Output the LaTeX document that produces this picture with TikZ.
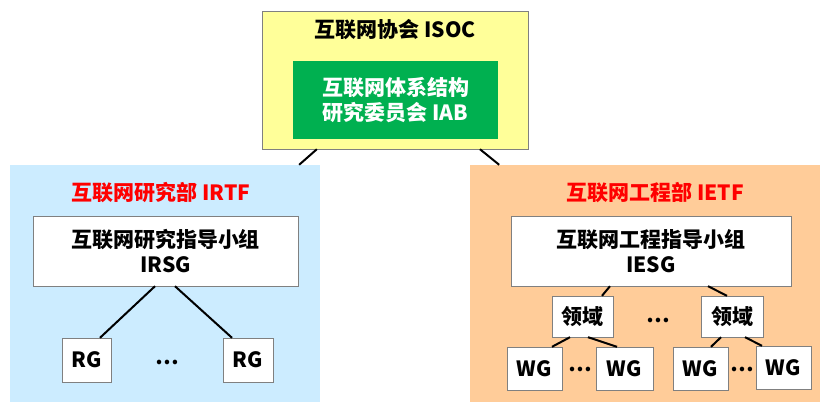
\documentclass[tikz,border=0pt]{standalone}
\usepackage{fontspec}
\setmainfont{Noto Sans CJK SC}
\usepackage{xcolor}
\definecolor{isocyellow}{HTML}{FFFF99}
\definecolor{iabgreen}{HTML}{00B050}
\definecolor{irtfblue}{HTML}{CCECFF}
\definecolor{ietforange}{HTML}{FFCC99}
\newcommand{\boxfont}{\fontsize{21}{25}\selectfont\bfseries}
\tikzset{
  every node/.style={
    font=\boxfont, inner sep=0pt
  },
  panel/.style={fill=#1, minimum width=0, minimum height=0},
  whitebox/.style={draw=gray, fill=white, align=center},
  title/.style={text=#1},
  link/.style={line width=2pt}
}

\begin{document}
\begin{tikzpicture}[x=1pt, y=-1pt]
    %\draw[gray, very thin] (0,0) grid[step=20] (820,402);
    \useasboundingbox (0,0) rectangle (820,402);

    % top
    \node [panel=isocyellow, draw=gray, minimum width=266, minimum height=138] (isoc) at (395,80) {};
    \node [title=black] (isoctitle) at (395,30) {互联网协会 ISOC};
    \node [fill=iabgreen, text=white, align=center, minimum width=205, minimum height=78] (iab) at (395.5,100) {互联网体系结构\\研究委员会 IAB};

    % left
    \node [panel=irtfblue, minimum width=310, minimum height=237] (irtf) at (165,283.5) {};
    \node [title=red] (irtftitle) at (161,193) {互联网研究部 IRTF};
    \node [whitebox, minimum width=265, minimum height=70] (irsg) at (165.5,251) {互联网研究指导小组\\IRSG};
    \node [whitebox, minimum width=49, minimum height=44] (rga) at (86.5,360) {RG};
    \node [whitebox, minimum width=50, minimum height=44] (rgb) at (248,360) {RG};
    \node (rgdots) at (167,362) {…};

    % right
    \node [panel=ietforange, minimum width=350, minimum height=237] (ietf) at (645,283.5) {};
    \node [title=red] (ietftitle) at (655,193) {互联网工程部 IETF};
    \node [whitebox, minimum width=280, minimum height=70] (iesg) at (651,251) {互联网工程指导小组\\IESG};
    \node [whitebox, minimum width=61, minimum height=41] (areaa) at (582.5,316.5) {领域};
    \node [whitebox, minimum width=62, minimum height=41] (areab) at (732,316.5) {领域};
    \node (areadots) at (658,320) {…};
    \node [whitebox, minimum width=55, minimum height=43] (wga) at (534.5,368.5) {WG};
    \node [whitebox, minimum width=57, minimum height=43] (wgb) at (624.5,368.5) {WG};
    \node [whitebox, minimum width=55, minimum height=43] (wgc) at (700.5,368.5) {WG};
    \node [whitebox, minimum width=55, minimum height=43] (wgd) at (783.5,367.5) {WG};
    \node (wgdotsa) at (580,369) {…};
    \node (wgdotsb) at (742,369) {…};

    \draw [link] (isoc) -- (irtf);
    \draw [link] (isoc) -- (ietf);

    \draw [link] ([xshift=-10.5]irsg.south) -- ([xshift=13.5]rga.north);
    \draw [link] ([xshift=9.5]irsg.south) -- ([xshift=-16]rgb.north);

    \draw [link] ([xshift=-41]iesg.south) -- ([xshift=19.5]areaa.north);
    \draw [link] ([xshift=57]iesg.south) -- ([xshift=-5]areab.north);
    \draw [link] ([xshift=-12.5]areaa.south) -- ([xshift=17.5]wga.north);
    \draw [link] ([xshift=5.5]areaa.south) -- ([xshift=-7.5]wgb.north);
    \draw [link] ([xshift=-11]areab.south) -- ([xshift=10.5]wgc.north);
    \draw [link] ([xshift=13]areab.south) -- ([xshift=-21.5]wgd.north);
\end{tikzpicture}
\end{document}
